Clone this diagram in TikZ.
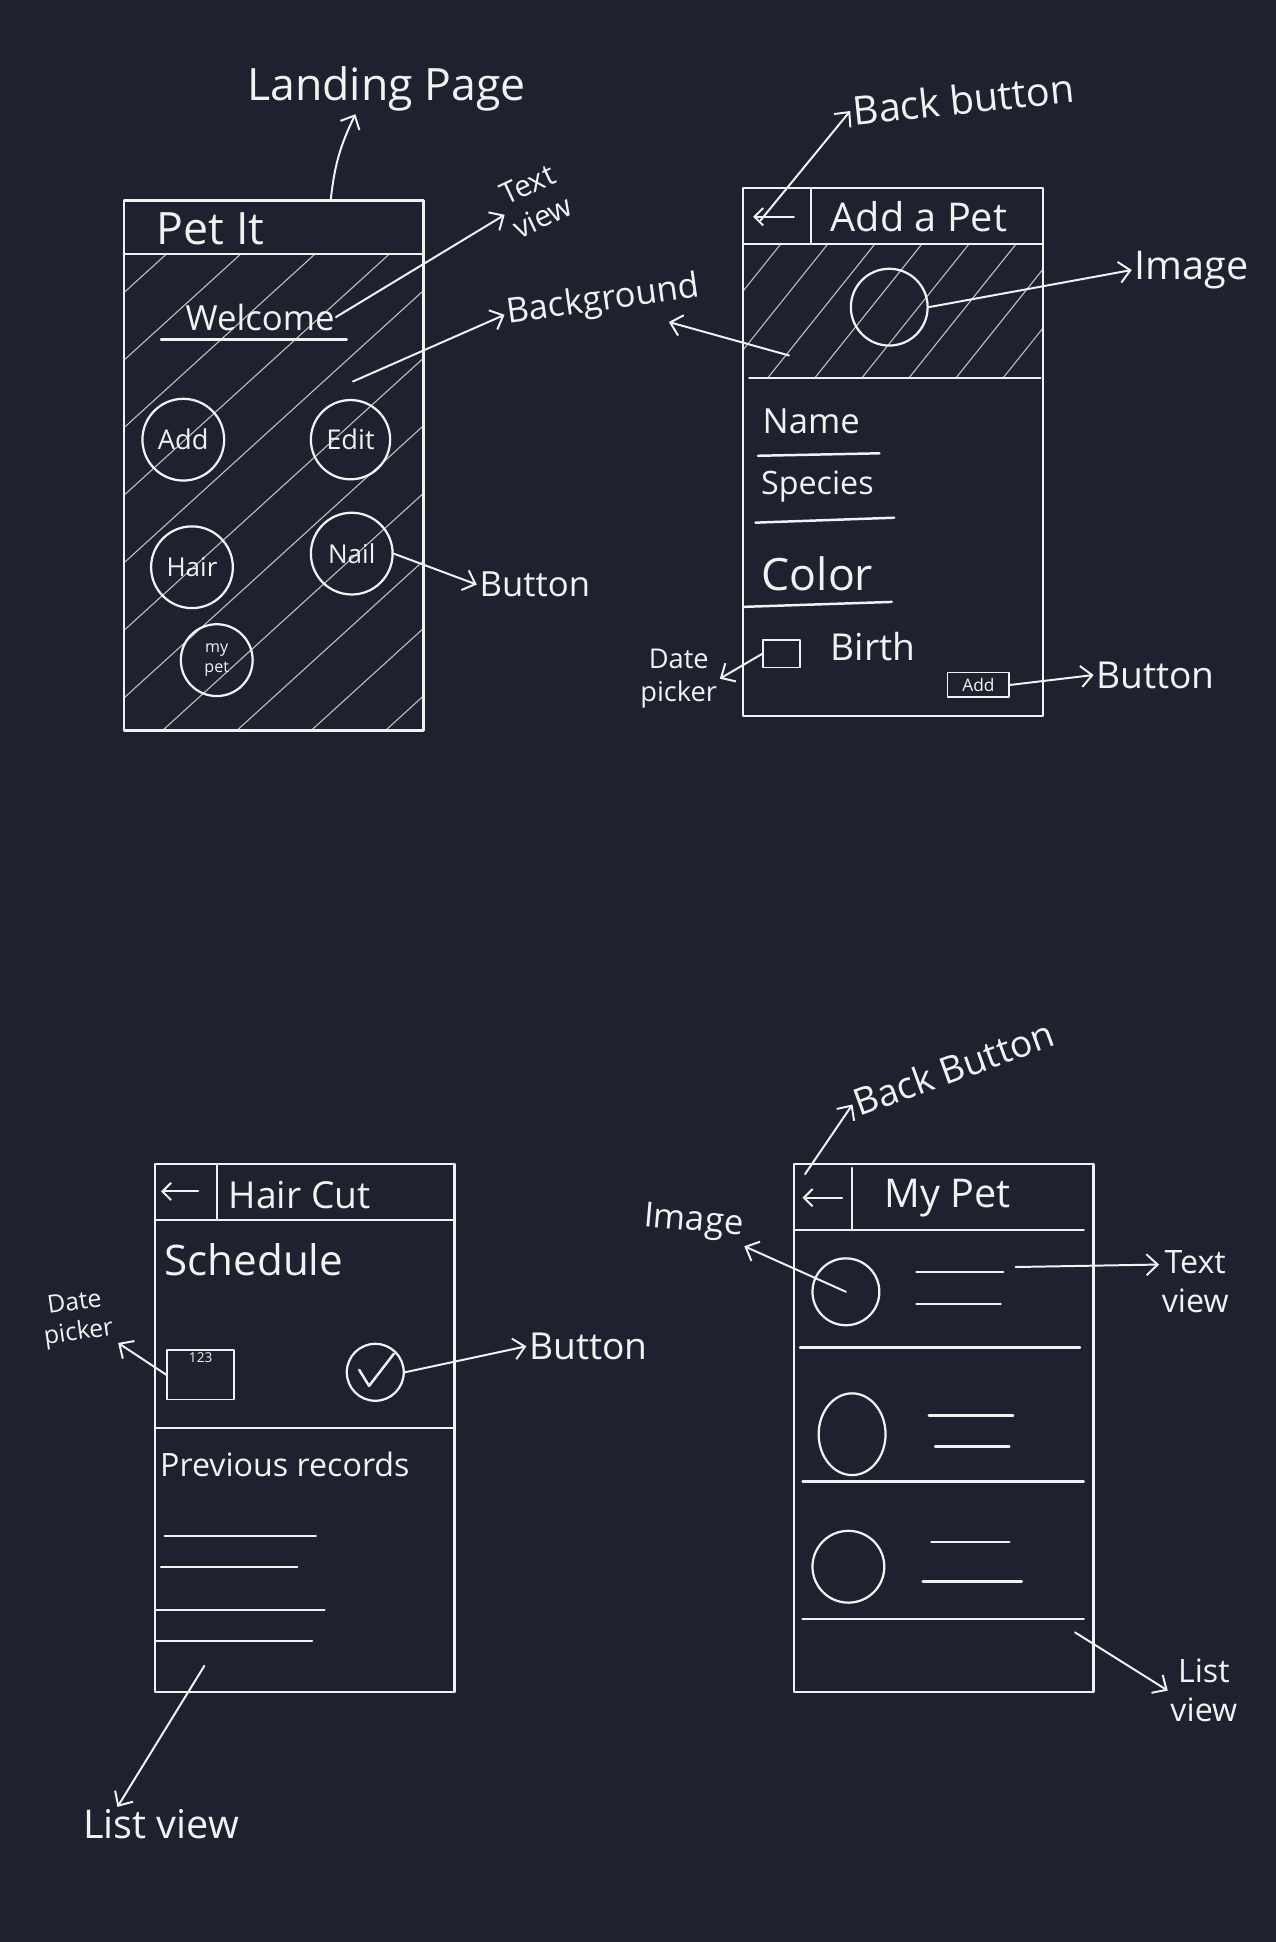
\documentclass[tikz,border=0pt]{standalone}
\usepackage{fontspec}
\setmainfont{Open Sans}
\usetikzlibrary{arrows.meta,shapes.geometric}
\definecolor{boardbg}{RGB}{30,34,46}
\definecolor{chalk}{RGB}{242,242,242}
\newcommand{\hand}[1]{\fontsize{#1}{\fpeval{#1*1.2}}\selectfont}

\begin{document}
\begin{tikzpicture}[x=1pt,y=-1pt,line cap=round,line join=round,
		>={Straight Barb[length=9pt,width=17pt]},
		screen/.style={draw=chalk,line width=2pt},
		hatch line/.style={draw=chalk!75!boardbg,line width=0.9pt},
		pointer/.style={->,draw=chalk,line width=1.6pt},
		ui/.style={text=chalk,font=\hand{#1},inner sep=1pt},
		note/.style={text=chalk,font=\hand{#1},inner sep=2pt},
		button circle/.style={circle,draw=chalk,line width=1.8pt,inner sep=0pt,text=chalk},
		field box/.style={draw=chalk,line width=1.5pt,inner sep=0pt}]

	\fill[boardbg] (0,0) rectangle (1030,1568);
	\useasboundingbox (0,0) rectangle (1030,1568);

	% landing page
	\begin{scope}
		\clip (100,205) rectangle (342,590);
		\foreach \s in {-300,-240,...,340}
			\draw[hatch line] (\s,600) -- ++(440,-400);
	\end{scope}
	\draw[screen] (100,162) rectangle (342,590);
	\draw[screen] (100,205) -- (342,205);
	\coordinate (land-top) at (267,162);
	\coordinate (land-bg) at (285,308);
	\node[ui=36] (petit) at (170,185) {Pet It};
	\node[ui=28] (welcome) at (210,256) {Welcome};
	\draw[screen] (130,274) -- (280,274);
	\node[button circle,minimum size=66pt,font=\hand{22}] (add) at (148,355) {Add};
	\node[button circle,minimum size=64pt,font=\hand{22}] (edit) at (283,355) {Edit};
	\node[button circle,minimum size=66pt,font=\hand{21}] (hair) at (155,458) {Hair};
	\node[button circle,minimum size=66pt,font=\hand{21}] (nail) at (284,447) {Nail};
	\node[button circle,minimum size=58pt,font=\hand{13},align=center] (mypet) at (175,533) {my\\pet};

	\node[note=36] (landing) at (312,72) {Landing Page};
	\node[note=24,rotate=25,align=center] (textview1) at (432,162) {Text\\view};
	\node[note=28,rotate=8] (background) at (487,243) {Background};
	\node[note=28,anchor=west] (button1) at (385,472) {Button};
	\coordinate (bg-tip) at (540,260);

	\draw[pointer] (land-top) to[bend left=10] ([xshift=-25pt]landing.south);
	\draw[pointer] (welcome.east) -- (textview1.west);
	\draw[pointer] (land-bg) -- (background.west);
	\draw[pointer] (nail.east) -- (button1.west);

	% add a pet
	\begin{scope}
		\clip (600,197) rectangle (842,305);
		\foreach \s in {540,578,...,880}
			\draw[hatch line] (\s,310) -- ++(120,-150);
	\end{scope}
	\draw[screen] (600,152) rectangle (842,578);
	\draw[screen] (600,197) -- (842,197);
	\draw[screen] (655,152) -- (655,197);
	\draw[screen] (605,305) -- (840,305);
	\draw[pointer,>={Straight Barb[length=7pt,width=14pt]}] (641,175) -- (608,175);
	\coordinate (back1) at (614,178);
	\coordinate (pet-bg) at (637,287);
	\node[ui=32] (addtitle) at (742,175) {Add a Pet};
	\node[button circle,minimum size=62pt] (petimage) at (718,248) {};
	\node[ui=28] (name) at (655,340) {Name};
	\draw[screen] (612,368) -- (710,366);
	\node[ui=26] (species) at (660,393) {Species};
	\draw[screen] (610,422) -- (722,418);
	\node[ui=36] (color) at (660,463) {Color};
	\draw[screen] (600,490) -- (720,486);
	\node[field box,minimum width=30pt,minimum height=22pt] (birthbox) at (631,528) {};
	\node[ui=30] (birth) at (705,522) {Birth};
	\node[field box,text=chalk,font=\hand{14},minimum width=50pt,minimum height=20pt] (addbtn) at (790,553) {Add};

	\node[note=32,rotate=6] (backlabel1) at (778,80) {Back button};
	\node[note=32] (imagelabel1) at (962,218) {Image};
	\node[note=22,align=center] (datepicker1) at (548,548) {Date\\picker};
	\node[note=30] (button2) at (933,545) {Button};

	\draw[pointer] (back1) -- (backlabel1.west);
	\draw[pointer] (pet-bg) -- (bg-tip);
	\draw[pointer] (petimage.east) -- (imagelabel1.west);
	\draw[pointer] (birthbox.west) -- (datepicker1.east);
	\draw[pointer] (addbtn.east) -- (button2.west);

	% hair cut
	\draw[screen] (125,940) rectangle (367,1366);
	\draw[screen] (125,985) -- (367,985);
	\draw[screen] (175,940) -- (175,985);
	\draw[pointer,>={Straight Barb[length=7pt,width=14pt]}] (160,962) -- (130,962);
	\node[ui=30] (haircut) at (242,965) {Hair Cut};
	\node[ui=34] (schedule) at (205,1017) {Schedule};
	\node[field box,minimum width=54pt,minimum height=40pt] (datebox) at (162,1110) {};
	\node[ui=11,anchor=north] (datenums) at ([yshift=-2pt]datebox.north) {123};
	\node[button circle,minimum size=46pt] (check) at (303,1108) {};
	\draw[screen] (290,1106) -- (298,1119) -- (318,1093);
	\draw[screen] (125,1153) -- (367,1153);
	\node[ui=26] (previous) at (230,1182) {Previous records};
	\draw[screen] (133,1240) -- (255,1240);
	\draw[screen] (130,1265) -- (240,1265);
	\draw[screen] (126,1300) -- (262,1300);
	\draw[screen] (126,1325) -- (252,1325);
	\coordinate (hair-list) at (165,1345);

	\node[note=30] (button3) at (475,1087) {Button};
	\node[note=20,align=center,rotate=8] (datepicker2) at (62,1065) {Date\\picker};
	\node[note=32] (listview1) at (130,1473) {List view};

	\draw[pointer] (datebox.west) -- (datepicker2.south east);
	\draw[pointer] (check.east) -- (button3.west);
	\draw[pointer] (hair-list) -- ([xshift=30pt]listview1.north west);

	% my pet
	\draw[screen] (641,940) rectangle (883,1366);
	\draw[screen] (641,993) -- (875,993);
	\draw[screen] (688,943) -- (688,993);
	\draw[pointer,>={Straight Barb[length=7pt,width=14pt]}] (680,967) -- (648,967);
	\coordinate (back2) at (650,948);
	\node[ui=32] (mypettitle) at (765,967) {My Pet};
	\draw[screen] (646,1088) -- (872,1088);
	\draw[screen] (648,1196) -- (875,1196);
	\draw[screen] (648,1307) -- (875,1307);
	\node[button circle,minimum size=54pt] (petpic1) at (683,1043) {};
	\node[ellipse,draw=chalk,line width=1.8pt,minimum width=54pt,minimum height=66pt] (petpic2) at (688,1158) {};
	\node[button circle,minimum size=58pt] (petpic3) at (685,1265) {};
	\draw[screen] (740,1027) -- (810,1027);
	\draw[screen] (740,1053) -- (808,1053);
	\draw[screen] (750,1143) -- (818,1143);
	\draw[screen] (755,1168) -- (815,1168);
	\draw[screen] (752,1245) -- (815,1245);
	\draw[screen] (745,1277) -- (825,1277);
	\coordinate (text-row) at (820,1023);
	\coordinate (list-end) at (868,1318);

	\node[note=30,rotate=20] (backlabel2) at (770,862) {Back Button};
	\node[note=28,rotate=-5] (imagelabel2) at (560,987) {Image};
	\node[note=26,align=center] (textview2) at (965,1035) {Text\\view};
	\node[note=26,align=center] (listview2) at (972,1365) {List\\view};

	\draw[pointer] (back2) -- (backlabel2.west);
	\draw[pointer] (petpic1.center) -- (imagelabel2.south east);
	\draw[pointer] (text-row) -- ([yshift=14pt]textview2.west);
	\draw[pointer] (list-end) -- (listview2.west);
\end{tikzpicture}
\end{document}
